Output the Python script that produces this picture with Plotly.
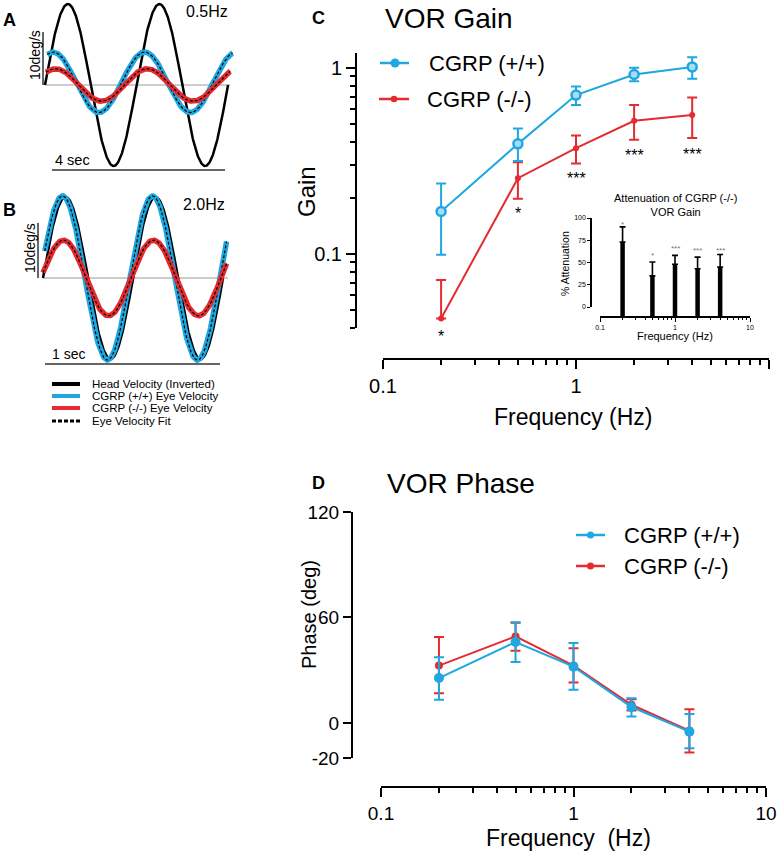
import numpy as np
import plotly.graph_objects as go

W, H = 780, 853
def px(x): return x / W
def py(y): return 1 - y / H

BLUE = "#1EA7E1"
RED = "#E52A30"
FONT = "Liberation Sans, Arial, sans-serif"

# ---------------- data ----------------
# Panels A/B: sinusoid parameters (deg/s, degrees)
A_freq = 0.5
B_freq = 2.0
head_amp = 15.0
A_wt_amp, A_wt_phase, A_wt_offset = 5.6, 58, 0.5
A_ko_amp, A_ko_phase = 3.0, 48
B_wt_amp, B_wt_phase = 15.2, 12
B_ko_amp, B_ko_phase = 7.0, 8

# Panel C: VOR gain
freq = [0.2, 0.5, 1, 2, 4]
gain_wt = [0.169, 0.39, 0.713, 0.92, 1.01]
gain_wt_hi = [0.239, 0.472, 0.793, 1.0, 1.14]
gain_wt_lo = [0.099, 0.316, 0.63, 0.845, 0.873]
gain_ko = [0.045, 0.255, 0.37, 0.519, 0.557]
gain_ko_hi = [0.0725, 0.311, 0.433, 0.63, 0.692]
gain_ko_lo = [0.045, 0.198, 0.306, 0.41, 0.42]
gain_sig = ["*", "*", "***", "***", "***"]

# Inset: % attenuation
atten = [73, 35, 48, 43, 45]
atten_err = [17, 15.5, 10, 13, 14]

# Panel D: VOR phase
phase_wt = [25.5, 46, 32, 9, -5]
phase_wt_hi = [37.4, 57.3, 45.4, 14, 5]
phase_wt_lo = [13.1, 34.6, 18.8, 3.6, -14.4]
phase_ko = [32.6, 49.2, 32.6, 10.3, -4.4]
phase_ko_hi = [48.8, 57.0, 42.5, 13.5, 7.8]
phase_ko_lo = [16.9, 41.0, 23.0, 7.0, -16.9]
phase_ticks = [-20, 0, 60, 120]
phase_ticktext = ["-20", "0", "60", "120"]

fig = go.Figure()

def sine(t, f, amp, ph, off=0.0):
    return off + amp * np.sin(2 * np.pi * f * t + np.deg2rad(ph))

# ---------------- Panel A ----------------
tA_h = np.linspace(0, 4.0, 400)
tA_w = np.linspace(0.05, 4.1, 400)
tA_k = np.linspace(0.02, 4.05, 400)
fig.add_trace(go.Scatter(x=tA_h, y=sine(tA_h, A_freq, head_amp, 0), mode="lines",
                         line=dict(color="black", width=2.5), xaxis="x", yaxis="y"))
yw = sine(tA_w, A_freq, A_wt_amp, A_wt_phase, A_wt_offset)
fig.add_trace(go.Scatter(x=tA_w, y=yw, mode="lines", line=dict(color=BLUE, width=5.5), xaxis="x", yaxis="y"))
fig.add_trace(go.Scatter(x=tA_w, y=yw, mode="lines", line=dict(color="black", width=1.2, dash="3px,2px"), xaxis="x", yaxis="y"))
yk = sine(tA_k, A_freq, A_ko_amp, A_ko_phase)
fig.add_trace(go.Scatter(x=tA_k, y=yk, mode="lines", line=dict(color=RED, width=5.5), xaxis="x", yaxis="y"))
fig.add_trace(go.Scatter(x=tA_k, y=yk, mode="lines", line=dict(color="black", width=1.2, dash="3px,2px"), xaxis="x", yaxis="y"))

# ---------------- Panel B ----------------
tB_h = np.linspace(0, 1.0, 400)
tB_w = np.linspace(0.01, 1.02, 400)
tB_k = np.linspace(0.0, 1.02, 400)
fig.add_trace(go.Scatter(x=tB_h, y=sine(tB_h, B_freq, head_amp, 0), mode="lines",
                         line=dict(color="black", width=2.5), xaxis="x2", yaxis="y2"))
yw = sine(tB_w, B_freq, B_wt_amp, B_wt_phase)
fig.add_trace(go.Scatter(x=tB_w, y=yw, mode="lines", line=dict(color=BLUE, width=5.5), xaxis="x2", yaxis="y2"))
fig.add_trace(go.Scatter(x=tB_w, y=yw, mode="lines", line=dict(color="black", width=1.2, dash="3px,2px"), xaxis="x2", yaxis="y2"))
yk = sine(tB_k, B_freq, B_ko_amp, B_ko_phase)
fig.add_trace(go.Scatter(x=tB_k, y=yk, mode="lines", line=dict(color=RED, width=5.5), xaxis="x2", yaxis="y2"))
fig.add_trace(go.Scatter(x=tB_k, y=yk, mode="lines", line=dict(color="black", width=1.2, dash="3px,2px"), xaxis="x2", yaxis="y2"))

# ---------------- Panel C ----------------
def errs(v, hi, lo):
    return [h - a for a, h in zip(v, hi)], [a - l for a, l in zip(v, lo)]

e_hi, e_lo = errs(gain_ko, gain_ko_hi, gain_ko_lo)
fig.add_trace(go.Scatter(x=freq, y=gain_ko, mode="lines+markers", xaxis="x3", yaxis="y3",
                         line=dict(color=RED, width=2), marker=dict(color=RED, size=6),
                         error_y=dict(type="data", symmetric=False, array=e_hi, arrayminus=e_lo,
                                      color=RED, thickness=2, width=5)))
e_hi, e_lo = errs(gain_wt, gain_wt_hi, gain_wt_lo)
fig.add_trace(go.Scatter(x=freq, y=gain_wt, mode="lines+markers", xaxis="x3", yaxis="y3",
                         line=dict(color=BLUE, width=2),
                         marker=dict(color="#a9dcf3", size=9, line=dict(color=BLUE, width=2.5)),
                         error_y=dict(type="data", symmetric=False, array=e_hi, arrayminus=e_lo,
                                      color=BLUE, thickness=2, width=5)))

# ---------------- Inset ----------------
inset_y0_px, inset_y100_px, inset_xaxis_px = 307, 218, 317
inset_base = -100 * (inset_xaxis_px - inset_y0_px) / (inset_y0_px - inset_y100_px)
bx, by = [], []
for f, a in zip(freq, atten):
    bx += [f, f, None]
    by += [inset_base, a, None]
fig.add_trace(go.Scatter(x=bx, y=by, mode="lines", line=dict(color="black", width=4.5),
                         xaxis="x5", yaxis="y6"))
fig.add_trace(go.Scatter(x=freq, y=atten, mode="markers", marker=dict(color="black", size=1),
                         xaxis="x5", yaxis="y6",
                         error_y=dict(type="data", symmetric=False, array=atten_err,
                                      arrayminus=[0] * len(atten), color="black", thickness=1.6, width=3)))
fig.add_trace(go.Scatter(x=[1], y=[50], mode="markers", marker=dict(opacity=0), xaxis="x5", yaxis="y5"))

# ---------------- Panel D ----------------
e_hi, e_lo = errs(phase_ko, phase_ko_hi, phase_ko_lo)
fig.add_trace(go.Scatter(x=freq, y=phase_ko, mode="lines+markers", xaxis="x4", yaxis="y4",
                         line=dict(color=RED, width=2), marker=dict(color=RED, size=8),
                         error_y=dict(type="data", symmetric=False, array=e_hi, arrayminus=e_lo,
                                      color=RED, thickness=2, width=5)))
e_hi, e_lo = errs(phase_wt, phase_wt_hi, phase_wt_lo)
fig.add_trace(go.Scatter(x=freq, y=phase_wt, mode="lines+markers", xaxis="x4", yaxis="y4",
                         line=dict(color=BLUE, width=2), marker=dict(color=BLUE, size=10),
                         error_y=dict(type="data", symmetric=False, array=e_hi, arrayminus=e_lo,
                                      color=BLUE, thickness=2, width=5)))

# ---------------- axes ----------------
hidden = dict(visible=False, showgrid=False, zeroline=False, fixedrange=True, automargin=False)
minor_dec = [0.2, 0.3, 0.4, 0.5, 0.6, 0.7, 0.8, 0.9, 2, 3, 4, 5, 6, 7, 8, 9]

def logx(domain, ypos, size, lw, tl, mtl, tw):
    return dict(type="log", range=[-1, 1], domain=domain, anchor="free", position=ypos,
                showline=True, linecolor="black", linewidth=lw, ticks="outside", ticklen=tl,
                tickwidth=tw, tickcolor="black", tickvals=[0.1, 1, 10], ticktext=["0.1", "1", "10"],
                tickfont=dict(size=size, color="black"), showgrid=False, zeroline=False, automargin=False,
                minor=dict(ticks="outside", ticklen=mtl, tickwidth=tw, tickcolor="black", tickvals=minor_dec))

fig.update_layout(
    xaxis=dict(hidden, domain=[px(40.4), px(237.2)], range=[-0.1, 4.2], anchor="y"),
    yaxis=dict(hidden, domain=[py(170), py(0)], range=[-15.74, 15.74], anchor="x"),
    xaxis2=dict(hidden, domain=[px(39.4), px(230.2)], range=[-0.02, 1.04], anchor="y2"),
    yaxis2=dict(hidden, domain=[py(363), py(193)], range=[-15.74, 15.74], anchor="x2"),
    xaxis3=logx([px(383), px(769)], py(359), 20, 2, 9, 5, 2),
    yaxis3=dict(type="log", range=[np.log10(0.04), np.log10(1.2)], domain=[py(328), py(53)],
                anchor="free", position=px(356), showline=True, linecolor="black", linewidth=2,
                ticks="outside", ticklen=9, tickwidth=2, tickcolor="black",
                tickvals=[0.1, 1], ticktext=["0.1", "1"], tickfont=dict(size=20, color="black"),
                showgrid=False, zeroline=False, automargin=False,
                minor=dict(ticks="outside", ticklen=5, tickwidth=2, tickcolor="black",
                           tickvals=[0.04, 0.05, 0.06, 0.07, 0.08, 0.09, 0.2, 0.3, 0.4, 0.5, 0.6, 0.7, 0.8, 0.9])),
    xaxis4=logx([px(381), px(766)], py(786.7), 19, 2, 9, 5, 2),
    yaxis4=dict(range=[-20, 120], domain=[py(758), py(512)], anchor="free", position=px(352),
                showline=True, linecolor="black", linewidth=2, ticks="outside", ticklen=8,
                tickwidth=2, tickcolor="black", tickvals=phase_ticks, ticktext=phase_ticktext,
                tickfont=dict(size=19, color="black"), showgrid=False, zeroline=False, automargin=False),
    xaxis5=logx([px(600), px(750)], py(317), 7, 1.5, 4, 2.5, 1),
    yaxis5=dict(range=[0, 100], domain=[py(307), py(218)], anchor="free", position=px(591),
                showline=True, linecolor="black", linewidth=1.5, ticks="outside", ticklen=3,
                tickwidth=1, tickcolor="black", tickvals=[0, 25, 50, 75, 100],
                tickfont=dict(size=7, color="black"), showgrid=False, zeroline=False, automargin=False),
    yaxis6=dict(hidden, range=[inset_base, 100], domain=[py(317), py(218)], anchor="free", position=px(591)),
)

# ---------------- shapes ----------------
shapes = []
def pline(x0, y0, x1, y1, color="black", width=2, dash="solid", layer="above"):
    shapes.append(dict(type="line", xref="paper", yref="paper", x0=px(x0), y0=py(y0),
                       x1=px(x1), y1=py(y1), line=dict(color=color, width=width, dash=dash), layer=layer))
def pcirc(cx, cy, r, color):
    shapes.append(dict(type="circle", xref="paper", yref="paper", x0=px(cx - r), x1=px(cx + r),
                       y0=py(cy + r), y1=py(cy - r), fillcolor=color, line=dict(color=color, width=0)))

# zero lines and scale bars (A, B)
pline(46, 85, 230, 85, "#9a9a9a", 1, layer="below")
pline(43, 278, 228, 278, "#9a9a9a", 1, layer="below")
pline(43, 32, 43, 85, "#333", 1.5)
pline(38, 223, 38, 278, "#333", 1.5)
pline(52, 170, 225, 170, "#333", 1.5)
pline(45, 364, 220, 364, "#333", 1.5)
# legend A/B
pline(52, 384, 80, 384, "black", 4)
pline(52, 396, 80, 396, BLUE, 4)
pline(52, 408, 80, 408, RED, 4)
pline(52, 421, 80, 421, "black", 3, dash="4px,2px")
# legend C
pline(380, 63, 409, 63, BLUE, 2.5); pcirc(395, 63, 4.5, BLUE)
pline(379, 99, 409, 99, RED, 2.5); pcirc(394, 99, 3.3, RED)
# legend D
pline(576, 535, 605, 535, BLUE, 2.5); pcirc(590.5, 535, 3.5, BLUE)
pline(576, 566, 605, 566, RED, 2.5); pcirc(590.5, 566, 3.5, RED)

# ---------------- annotations ----------------
ann = []
def txt(s, x, y, size, xanchor="center", yanchor="middle", bold=False, angle=0, color="black"):
    ann.append(dict(text=f"<b>{s}</b>" if bold else s, x=px(x), y=py(y), xref="paper", yref="paper",
                    xanchor=xanchor, yanchor=yanchor, showarrow=False, textangle=angle,
                    font=dict(size=size, color=color, family=FONT)))

txt("A", 9, 20, 18, bold=True)
txt("B", 9, 210, 18, bold=True)
txt("C", 318, 18, 18, bold=True)
txt("D", 318, 483, 18, bold=True)
txt("0.5Hz", 207, 11, 16)
txt("2.0Hz", 204, 204, 16)
txt("4 sec", 53, 160, 14.5, xanchor="left")
txt("1 sec", 50, 354, 14, xanchor="left")
txt("10deg/s", 35, 55, 14, angle=-90)
txt("10deg/s", 30, 248, 14, angle=-90)
txt("Head Velocity (Inverted)", 90, 384, 11.5, xanchor="left")
txt("CGRP (+/+) Eye Velocity", 90, 396, 11.5, xanchor="left")
txt("CGRP (-/-) Eye Velocity", 90, 408, 11.5, xanchor="left")
txt("Eye Velocity Fit", 90, 421, 11.5, xanchor="left")

txt("VOR Gain", 449, 18, 28)
txt("CGRP (+/+)", 427, 63, 22, xanchor="left")
txt("CGRP (-/-)", 425, 99, 22, xanchor="left")
txt("Gain", 307, 192, 24, angle=-90)
txt("Frequency (Hz)", 573, 417, 23)

# significance stars (C)
star_y = [336, 213, 178, 156, 154]
for f, s, yv in zip(freq, gain_sig, star_y):
    ann.append(dict(text=s, x=np.log10(f), y=py(yv), xref="x3", yref="paper", showarrow=False,
                    xanchor="center", yanchor="middle", font=dict(size=16, color="black", family=FONT)))
# inset
txt("Attenuation of CGRP (-/-)<br>VOR Gain", 675, 205, 11)
txt("% Attenuation", 565, 264, 10.5, angle=-90)
txt("Frequency (Hz)", 675, 336, 11)
inset_star_y = [224, 255, 248, 250, 250]
for f, s, yv in zip(freq, gain_sig, inset_star_y):
    ann.append(dict(text=s, x=np.log10(f), y=py(yv), xref="x5", yref="paper", showarrow=False,
                    xanchor="center", yanchor="middle", font=dict(size=8, color="#777", family=FONT)))

txt("VOR Phase", 461, 483, 28)
txt("CGRP (+/+)", 622, 535, 22, xanchor="left")
txt("CGRP (-/-)", 622, 566, 22, xanchor="left")
txt("Phase (deg)", 309, 615, 20, angle=-90)
txt("Frequency  (Hz)", 568, 838, 23)

fig.update_layout(
    width=W, height=H, margin=dict(l=0, r=0, t=0, b=0, pad=0, autoexpand=False),
    paper_bgcolor="white", plot_bgcolor="rgba(0,0,0,0)", showlegend=False,
    font=dict(family=FONT, color="black"),
    shapes=shapes, annotations=ann,
)
fig.write_html("out.html", config={"displayModeBar": False},
               post_script="document.body.style.margin='0';document.body.style.overflow='hidden';")
